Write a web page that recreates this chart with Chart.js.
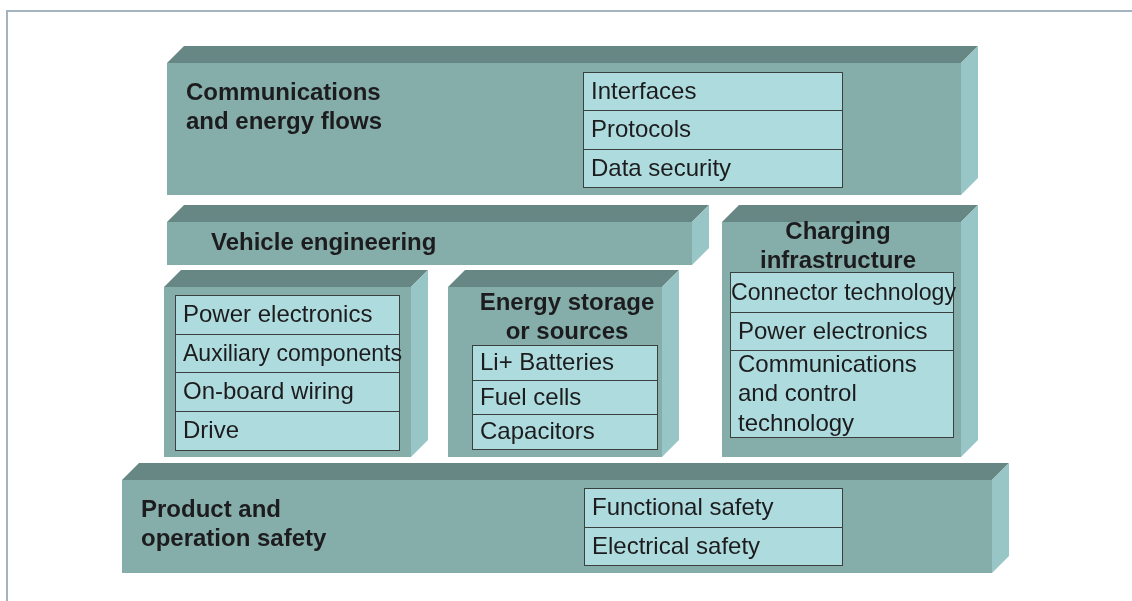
<!DOCTYPE html>
<html>
<head>
<meta charset="utf-8">
<title>E-mobility fields</title>
<script src="https://cdn.jsdelivr.net/npm/chart.js@4/dist/chart.umd.min.js"></script>
<style>
  html, body { margin: 0; padding: 0; background: #ffffff; }
  #wrap { width: 1132px; height: 601px; position: relative; }
</style>
</head>
<body>
<div id="wrap"><canvas id="diagram"></canvas></div>
<script>
/* ── Blocks (data units = picture units) ── */
const blockNames  = ['Communications and energy flows', 'Vehicle engineering', 'Vehicle components',
                     'Energy storage or sources', 'Charging infrastructure', 'Product and operation safety'];
const blockLeft   = [167, 167, 164, 448, 722, 122];
const blockRight  = [961, 692, 411, 662, 961, 992];
const blockTop    = [63, 222, 287, 287, 222, 480];
const blockBottom = [195, 265, 457, 457, 457, 573];
const blockDepth  = 17;

/* ── Block headings ── */
const headingLines = [['Communications', 'and energy flows'], ['Vehicle engineering'], [],
                      ['Energy storage', 'or sources'], ['Charging', 'infrastructure'],
                      ['Product and', 'operation safety']];
const headingX     = [186, 211, 0, 567, 838, 141];
const headingY     = [93, 243, 0, 303, 232, 510];
const headingAlign = ['left', 'left', 'left', 'center', 'center', 'left'];

/* ── Tables of items ── */
const tableLeft  = [583, 175, 472, 730, 584];
const tableRight = [842, 399, 657, 953, 842];
const tableRows  = [[72, 110, 149, 187],
                    [295, 334, 372, 411, 450],
                    [345, 380, 414, 449],
                    [272, 312, 350, 437],
                    [488, 527, 565]];
const tableItems = [['Interfaces', 'Protocols', 'Data security'],
                    ['Power electronics', 'Auxiliary components', 'On-board wiring', 'Drive'],
                    ['Li+ Batteries', 'Fuel cells', 'Capacitors'],
                    ['Connector technology', 'Power electronics', 'Communications\nand control\ntechnology'],
                    ['Functional safety', 'Electrical safety']];

const COL_FRONT = '#85aeab';
const COL_TOP   = '#678784';
const COL_SIDE  = '#98c5c5';
const COL_CELL  = '#aedbdd';
const COL_LINE  = '#3a3f40';
const COL_TEXT  = '#1c1c1e';
const FONT      = '"Liberation Sans", Arial, sans-serif';

function poly(ctx, pts, fill) {
    ctx.beginPath();
    ctx.moveTo(pts[0][0], pts[0][1]);
    for (let i = 1; i < pts.length; i++) ctx.lineTo(pts[i][0], pts[i][1]);
    ctx.closePath();
    ctx.fillStyle = fill;
    ctx.fill();
}

const diagramPlugin = {
    id: 'diagram',
    afterDatasetsDraw(chart) {
        const ctx = chart.ctx;
        const sx = chart.scales.x, sy = chart.scales.y;
        const X = v => sx.getPixelForValue(v);
        const Y = v => sy.getPixelForValue(v);
        const dx = X(blockDepth) - X(0);
        const dy = Y(blockDepth) - Y(0);

        ctx.save();

        // outer frame
        ctx.strokeStyle = '#a3b3bf';
        ctx.lineWidth = 2;
        ctx.strokeRect(X(6) + 1, Y(10) + 1, X(1150) - X(6), Y(620) - Y(10));

        // 3D blocks: top, side, then front face
        blockNames.forEach((name, i) => {
            const l = X(blockLeft[i]), r = X(blockRight[i]);
            const t = Y(blockTop[i]), b = Y(blockBottom[i]);
            poly(ctx, [[l, t], [l + dx, t - dy], [r + dx, t - dy], [r, t]], COL_TOP);
            poly(ctx, [[r, t], [r + dx, t - dy], [r + dx, b - dy], [r, b]], COL_SIDE);
            poly(ctx, [[l, t], [r, t], [r, b], [l, b]], COL_FRONT);
        });

        // headings
        ctx.fillStyle = COL_TEXT;
        ctx.textBaseline = 'middle';
        ctx.font = 'bold 24px ' + FONT;
        headingLines.forEach((lines, i) => {
            ctx.textAlign = headingAlign[i];
            lines.forEach((txt, k) => ctx.fillText(txt, X(headingX[i]), Y(headingY[i]) + k * 29.5));
        });

        // item tables
        tableItems.forEach((items, i) => {
            const l = X(tableLeft[i]), r = X(tableRight[i]);
            items.forEach((txt, k) => {
                const t = Y(tableRows[i][k]), b = Y(tableRows[i][k + 1]);
                ctx.fillStyle = COL_CELL;
                ctx.fillRect(l, t, r - l, b - t);
                ctx.strokeStyle = COL_LINE;
                ctx.lineWidth = 1;
                ctx.strokeRect(Math.round(l) + 0.5, Math.round(t) + 0.5, Math.round(r - l), Math.round(b - t));
            });
            items.forEach((txt, k) => {
                const t = Y(tableRows[i][k]), b = Y(tableRows[i][k + 1]);
                const lines = txt.split('\n');
                ctx.fillStyle = COL_TEXT;
                ctx.font = '24px ' + FONT;
                ctx.textBaseline = 'middle';
                ctx.textAlign = 'left';
                const w = r - l;
                const y0 = (t + b) / 2 - (lines.length - 1) * 29.5 / 2 + 1;
                lines.forEach((ln, m) => {
                    // long labels spill a little past the cell, as in the slide
                    const wide = ctx.measureText(ln).width > w * 1.03;
                    const x = wide ? l + 1 : l + 8;
                    ctx.fillText(ln, x, y0 + m * 29.5, r + 3 - x);
                });
            });
        });

        ctx.restore();
    }
};

new Chart(document.getElementById('diagram'), {
    type: 'scatter',
    data: { datasets: [{ data: [] }] },
    options: {
        responsive: true,
        maintainAspectRatio: false,
        animation: false,
        layout: { padding: 0 },
        plugins: { legend: { display: false }, tooltip: { enabled: false } },
        scales: {
            x: { type: 'linear', min: 0, max: 1132, display: false },
            y: { type: 'linear', min: 0, max: 601, reverse: true, display: false }
        }
    },
    plugins: [diagramPlugin]
});
</script>
</body>
</html>
